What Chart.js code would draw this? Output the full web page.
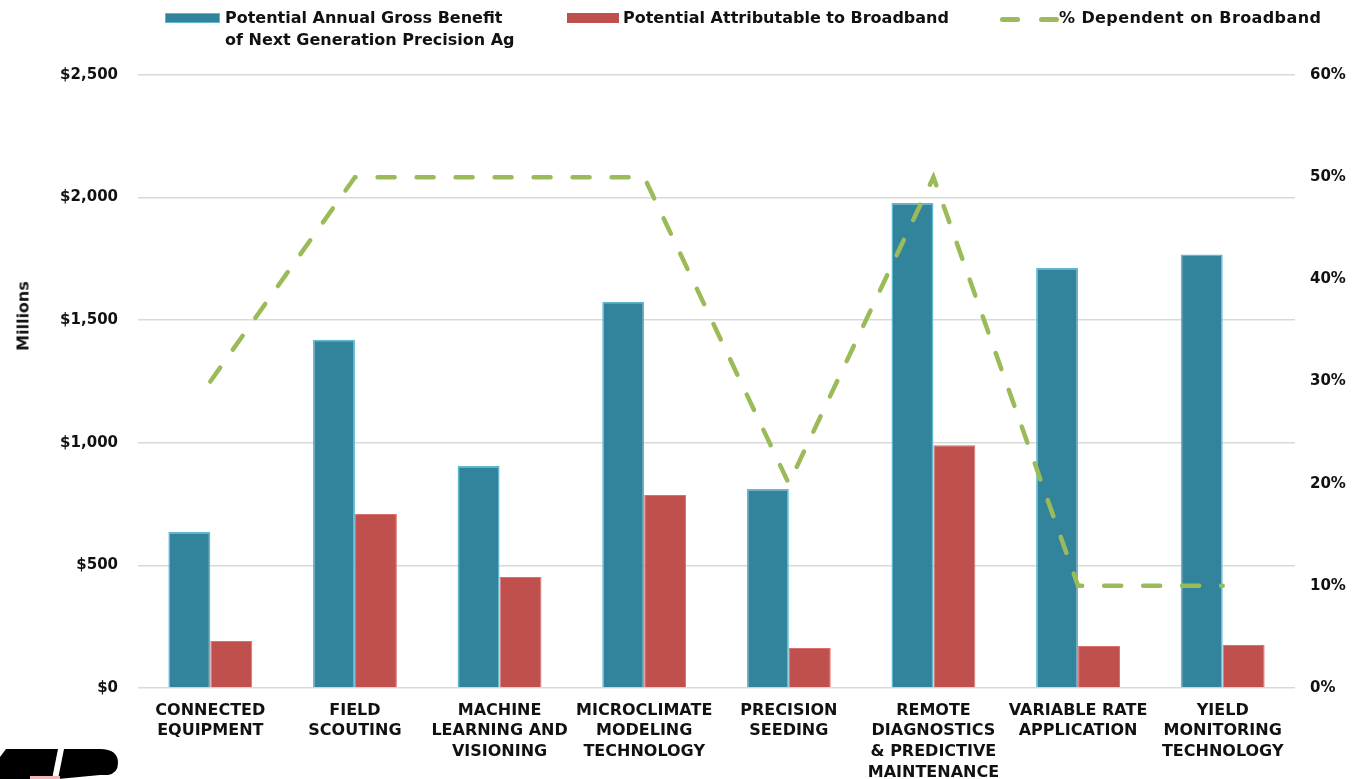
<!DOCTYPE html>
<html>
<head>
<meta charset="utf-8">
<script src="https://cdn.jsdelivr.net/npm/chart.js@4/dist/chart.umd.min.js"></script>
<style>
  html, body { margin:0; padding:0; background:#fff; }
  #wrap { position:relative; width:1355px; height:779px; overflow:hidden; font-family:"DejaVu Sans", sans-serif; }
  #chart { position:absolute; left:0; top:0; }
  .leg { position:absolute; font-weight:bold; font-size:16px; color:#111; line-height:22px; white-space:nowrap; }
  .sw { position:absolute; }
  #ytitle { position:absolute; left:23px; top:316px; transform:translate(-50%,-50%) rotate(-90deg);
            font-weight:bold; font-size:16px; color:#111; white-space:nowrap; }
  #logo { position:absolute; left:0; bottom:0; }
</style>
</head>
<body>
<div id="wrap">
  <canvas id="chart" width="1355" height="779"></canvas>

  <div class="sw" style="left:165px;top:13px;width:55px;height:10px;background:#31849b;border:1px solid #5fb8d0;box-sizing:border-box"></div>
  <div class="leg" style="left:225px;top:7px">Potential Annual Gross Benefit<br>of Next Generation Precision Ag</div>

  <div class="sw" style="left:567px;top:13px;width:52px;height:10px;background:#c0504d"></div>
  <div class="leg" style="left:623px;top:7px">Potential Attributable to Broadband</div>

  <div class="sw" style="left:1000px;top:17px;width:20px;height:5px;background:#9bbb59;border-radius:3px"></div>
  <div class="sw" style="left:1039px;top:17px;width:20px;height:5px;background:#9bbb59;border-radius:3px"></div>
  <div class="leg" style="left:1059px;top:7px;letter-spacing:0.4px">% Dependent on Broadband</div>

  <div id="ytitle">Millions</div>

  <svg id="logo" width="125" height="34" viewBox="0 0 125 34">
    <path d="M6 4 L58 4 L52 34 L0 34 L0 12 Z" fill="#000"/>
    <path d="M64 4 L100 4 Q118 4 118 18 Q118 28 108 30 L100 30 L58 34 Z" fill="#000"/>
    <rect x="30" y="31" width="30" height="3" fill="#f4b6b6"/>
  </svg>
</div>

<script>
// categories + series
const CATEGORIES = [
  ['CONNECTED','EQUIPMENT'],
  ['FIELD','SCOUTING'],
  ['MACHINE','LEARNING AND','VISIONING'],
  ['MICROCLIMATE','MODELING','TECHNOLOGY'],
  ['PRECISION','SEEDING'],
  ['REMOTE','DIAGNOSTICS','& PREDICTIVE','MAINTENANCE'],
  ['VARIABLE RATE','APPLICATION'],
  ['YIELD','MONITORING','TECHNOLOGY']
];
const GROSS_BENEFIT = [636, 1420, 905, 1575, 812, 1978, 1713, 1768];
const BROADBAND     = [192, 710, 453, 787, 163, 990, 171, 175];
const PCT_DEPENDENT = [0.30, 0.50, 0.50, 0.50, 0.20, 0.50, 0.10, 0.10];

const FONT = { family:'"DejaVu Sans", sans-serif', weight:'bold', size:15 };

new Chart(document.getElementById('chart').getContext('2d'), {
  type:'bar',
  data:{
    labels:CATEGORIES,
    datasets:[
      { type:'line', label:'% Dependent on Broadband', data:PCT_DEPENDENT, yAxisID:'y1',
        borderColor:'#9bbb59', borderWidth:4.5, borderDash:[17,22], borderCapStyle:'round',
        pointRadius:0, fill:false, tension:0, order:0 },
      { label:'Potential Annual Gross Benefit of Next Generation Precision Ag', data:GROSS_BENEFIT,
        backgroundColor:'#31849b', borderColor:'#5fb8d0', borderWidth:1.5,
        categoryPercentage:.58, barPercentage:1, order:1 },
      { label:'Potential Attributable to Broadband', data:BROADBAND,
        backgroundColor:'#c0504d', borderColor:'#d9706d', borderWidth:1,
        categoryPercentage:.58, barPercentage:1, order:1 }
    ]
  },
  options:{
    responsive:false, animation:false,
    layout:{ padding:{ top:75, bottom:0, left:0, right:0 } },
    plugins:{ legend:{display:false}, tooltip:{enabled:false} },
    scales:{
      x:{
        grid:{ display:false },
        border:{ display:false },
        ticks:{ color:'#111', font:{...FONT, size:16, lineHeight:1.3}, maxRotation:0, autoSkip:false, padding:4 },
        afterFit:(s) => { s.height = 91; }
      },
      y:{
        position:'left', min:0, max:2500,
        grid:{ color:'#d9d9d9', lineWidth:1.5, drawTicks:false },
        border:{ display:false },
        ticks:{ stepSize:500, color:'#111', font:FONT, padding:20,
                callback:(v) => '$' + v.toLocaleString('en-US') },
        afterFit:(s) => { s.width = 138; }
      },
      y1:{
        position:'right', min:0, max:0.6,
        grid:{ drawOnChartArea:false, drawTicks:false },
        border:{ display:false },
        ticks:{ stepSize:0.1, color:'#111', font:FONT, padding:15,
                callback:(v) => Math.round(v*100) + '%' },
        afterFit:(s) => { s.width = 60; }
      }
    }
  }
});
</script>
</body>
</html>
